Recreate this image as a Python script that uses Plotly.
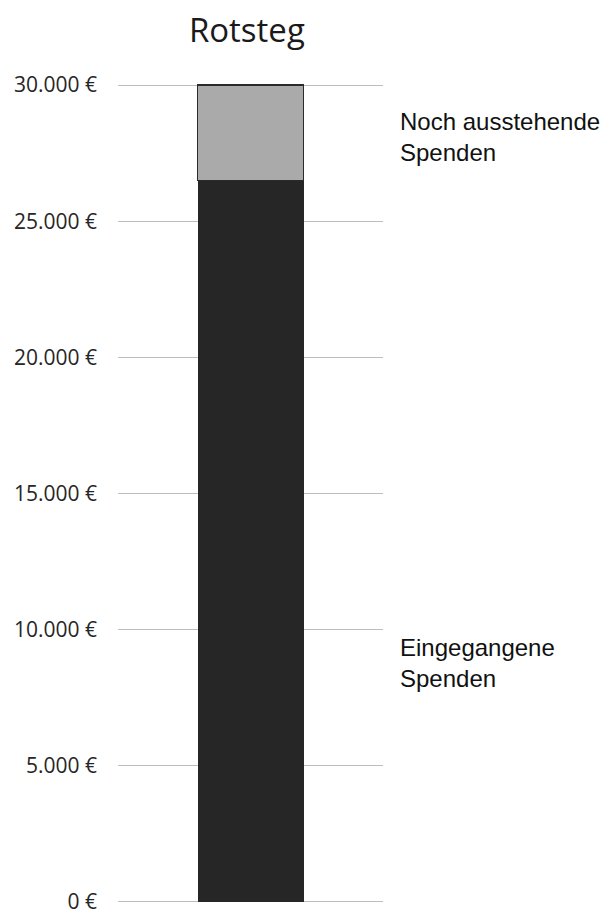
import plotly.graph_objects as go

categories = ["Rotsteg"]
received = [26500]
outstanding = [3500]
tick_values = [0, 5000, 10000, 15000, 20000, 25000, 30000]
tick_labels = ["0 €", "5.000 €", "10.000 €", "15.000 €", "20.000 €", "25.000 €", "30.000 €"]
series_names = ["Eingegangene Spenden", "Noch ausstehende Spenden"]
label_texts = ["Eingegangene<br>Spenden", "Noch ausstehende<br>Spenden"]

fig = go.Figure()
fig.add_trace(go.Bar(x=categories, y=received, name=series_names[0],
                     marker=dict(color="#262626", line=dict(color="#262626", width=0)),
                     width=0.4))
fig.add_trace(go.Bar(x=categories, y=outstanding, name=series_names[1],
                     marker=dict(color="#aaaaaa", line=dict(color="#2a2a2a", width=1.5)),
                     width=0.4))

fig.update_layout(
    barmode="stack",
    width=605, height=914,
    margin=dict(l=118, r=222, t=84, b=11),
    paper_bgcolor="white", plot_bgcolor="white",
    showlegend=False,
    title=dict(text="Rotsteg", x=0.408, xref="container", xanchor="center",
               y=0.967, yref="container", yanchor="middle",
               font=dict(family="Open Sans, sans-serif", size=33, color="#1a1a1a")),
    xaxis=dict(showticklabels=False, showgrid=False, zeroline=False, range=[-0.5, 0.5]),
    yaxis=dict(range=[-40, 30040], tickvals=tick_values, ticktext=tick_labels,
               showgrid=True, gridcolor="#bdbdbd", gridwidth=1, zeroline=False,
               ticklabelstandoff=20, ticklabeloverflow="allow", automargin=False,
               tickfont=dict(family="Open Sans, sans-serif", size=21, color="#262626")),
)

fig.add_annotation(xref="paper", yref="paper", x=1.0566, y=0.9356,
                   text=label_texts[1], showarrow=False, xanchor="left", yanchor="middle",
                   align="left", font=dict(family="Liberation Sans, Arial, sans-serif", size=24, color="#111111"))
fig.add_annotation(xref="paper", yref="paper", x=1.0566, y=0.2928,
                   text=label_texts[0], showarrow=False, xanchor="left", yanchor="middle",
                   align="left", font=dict(family="Liberation Sans, Arial, sans-serif", size=24, color="#111111"))

fig.write_html("out.html", config={"displayModeBar": False},
               post_script="document.body.style.margin='0';document.body.style.overflow='hidden';")
